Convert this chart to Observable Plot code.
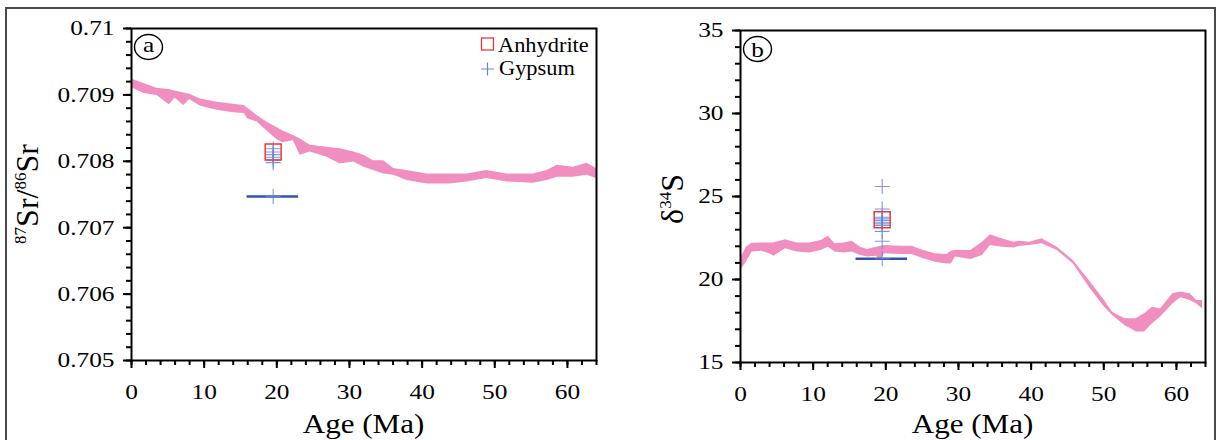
<!DOCTYPE html>
<html>
<head>
<meta charset="utf-8">
<script src="https://cdn.jsdelivr.net/npm/d3@7"></script>
<script src="https://cdn.jsdelivr.net/npm/@observablehq/plot@0.6"></script>
<style>
  html, body { margin: 0; padding: 0; background: #fff; }
  #fig { position: relative; width: 1218px; height: 440px; overflow: hidden; background: #fff; }
  .panel { position: absolute; top: 0; }
  #border { position: absolute; left: 5px; top: 7px; width: 1211px; height: 470px;
            border: 2px solid #4a4a4a; box-sizing: border-box; pointer-events: none; }
  #fig svg text { font-family: "Liberation Serif", "Times New Roman", serif; }
</style>
</head>
<body>
<div id="fig">
  <div id="pa" class="panel" style="left:0px"></div>
  <div id="pb" class="panel" style="left:605px"></div>
  <div id="border"></div>
</div>
<script>
// ---- Seawater 87Sr/86Sr envelope (panel a) ----
const srAge  = [0, 1.7, 3.5, 5.2, 6.0, 7.2, 8.0, 9.5, 11.8, 14.0, 15.5, 16.0, 17.3, 18.6, 20.0, 20.8, 22.3, 23.2, 24.6, 26.9, 28.7, 30.6, 32.0, 33.3, 34.7, 36.1, 37.9, 40.7, 43.9, 46.2, 48.9, 51.7, 55.3, 57.2, 58.6, 60.8, 62.7, 64];
const srHigh = [0.70924, 0.70917, 0.70910, 0.70908, 0.70906, 0.70903, 0.70901, 0.70894, 0.70889, 0.70886, 0.70884, 0.70880, 0.70869, 0.70859, 0.70851, 0.70846, 0.70839, 0.70834, 0.70824, 0.70821, 0.70819, 0.70814, 0.70809, 0.70801, 0.70801, 0.70789, 0.70786, 0.70781, 0.70781, 0.70781, 0.70786, 0.70781, 0.70781, 0.70786, 0.70794, 0.70791, 0.70797, 0.70789];
const srLow  = [0.70911, 0.70902, 0.70899, 0.70885, 0.70895, 0.70884, 0.70893, 0.70883, 0.70877, 0.70873, 0.70872, 0.70864, 0.70859, 0.70846, 0.70833, 0.70828, 0.70831, 0.70809, 0.70814, 0.70806, 0.70796, 0.70799, 0.70791, 0.70786, 0.70781, 0.70779, 0.70771, 0.70766, 0.70766, 0.70769, 0.70774, 0.70769, 0.70767, 0.70771, 0.70776, 0.70776, 0.70779, 0.70774];

// ---- Seawater δ34S envelope (panel b) ----
const sAge  = [0, 0.8, 1.6, 2.9, 4.0, 4.6, 6.2, 7.8, 9.5, 11.1, 12.1, 13.0, 14.3, 15.4, 16.5, 17.5, 18.7, 19.3, 19.8, 22.0, 23.6, 25.2, 26.8, 28.4, 29.0, 29.6, 31.7, 33.3, 34.4, 36.0, 37.6, 38.5, 39.8, 41.5, 43.6, 45.8, 48.0, 50.1, 51.2, 52.9, 54.5, 55.6, 56.7, 57.8, 59.5, 60.6, 61.9, 62.8, 63.6];
const sHigh = [21.25, 21.95, 22.19, 22.2, 22.2, 22.2, 22.39, 22.2, 22.2, 22.35, 22.6, 22.15, 22.2, 22.3, 21.95, 21.8, 21.95, 22.0, 22.05, 22.0, 22.0, 21.75, 21.55, 21.5, 21.7, 21.75, 21.75, 22.25, 22.7, 22.45, 22.25, 22.3, 22.25, 22.45, 21.95, 21.14, 19.94, 18.73, 18.03, 17.63, 17.63, 17.93, 18.33, 18.23, 19.14, 19.24, 19.14, 18.73, 18.73];
const sLow  = [20.54, 21.04, 21.65, 21.7, 21.55, 21.4, 21.85, 21.65, 21.6, 21.75, 21.95, 21.65, 21.6, 21.65, 21.45, 21.35, 21.4, 21.15, 21.55, 21.5, 21.5, 21.25, 21.04, 20.94, 20.94, 21.35, 21.2, 21.45, 22.05, 21.95, 21.9, 22.0, 22.05, 22.15, 21.75, 20.94, 19.54, 18.33, 17.83, 17.23, 16.83, 16.83, 17.33, 17.73, 18.53, 18.9, 18.73, 18.53, 18.23];

// ---- Evaporite samples (age ≈ 19.5 Ma; range 16–23 Ma) ----
const sampleAge = 19.5;
const sampleAgeMin = 15.9;
const sampleAgeMax = 23.0;
const anhydriteSr = [0.70814];
const gypsumSr    = [0.70819, 0.70814, 0.70810, 0.70806, 0.70802, 0.70798, 0.70747];
const gypsumSrBar = 0.70747;
const anhydriteS  = [23.6];
const gypsumS     = [25.6, 24.25, 23.75, 23.65, 23.55, 23.45, 23.35, 23.25, 22.9, 22.3, 21.25];
const gypsumSBar  = 21.25;

// ---- Axis ticks ----
const ageTicks = [0, 10, 20, 30, 40, 50, 60];
const srTicks = [0.705, 0.706, 0.707, 0.708, 0.709, 0.71];
const srTickLabels = ["0.705", "0.706", "0.707", "0.708", "0.709", "0.71"];
const sTicks = [15, 20, 25, 30, 35];
const sTickLabels = ["15", "20", "25", "30", "35"];

const ageMinor = d3.range(0, 65, 2);
const srMinor = d3.range(0, 26).map(i => +(0.705 + i * 0.0002).toFixed(5));
const sMinor = d3.range(15, 36, 1);

const FONT = '"Liberation Serif", "Times New Roman", serif';
const BAND = "#f08fbf";
const RED = "#e8383d";
const BLUE = "#6a85d3";
const DARKBLUE = "#3451b2";
const STRETCH = 1.18;
const TICK_FONT = 21.5;

const zip = (a, lo, hi) => a.map((age, i) => ({age, lo: lo[i], hi: hi[i]}));

function makePanel(o) {
  const svg = Plot.plot({
    width: o.width, height: 440,
    marginLeft: o.marginLeft, marginRight: o.marginRight,
    marginTop: o.marginTop, marginBottom: o.marginBottom,
    style: {fontFamily: FONT, fontSize: `${TICK_FONT}px`, color: "#000", background: "none", overflow: "visible"},
    x: {domain: [0, 64]},
    y: {domain: o.yDomain},
    marks: [
      Plot.areaY(o.band, {x: "age", y1: "lo", y2: "hi", fill: BAND}),
      Plot.ruleY([o.bar], {y: d => d, x1: sampleAgeMin, x2: sampleAgeMax, stroke: DARKBLUE, strokeWidth: 2.5}),
      Plot.dot(o.gypsum, {x: sampleAge, y: d => d, symbol: "plus", r: 4.9, stroke: BLUE, strokeWidth: 1.1, strokeOpacity: 0.85}),
      Plot.dot(o.anhydrite, {x: sampleAge, y: d => d, symbol: "square", r: 9, stroke: RED, fill: "none", strokeWidth: 1.5}),
      Plot.axisY({ticks: o.yMinor, tickSize: 5, strokeWidth: 2, tickFormat: () => "", label: null}),
      Plot.axisY({ticks: o.yTicks, tickSize: 8, tickPadding: 9, strokeWidth: 2,
                  tickFormat: d => o.yTickLabels[o.yTicks.indexOf(d)], label: null}),
      Plot.axisX({ticks: ageMinor, tickSize: 5, strokeWidth: 2, tickFormat: () => "", label: null}),
      Plot.axisX({ticks: ageTicks, tickSize: 8, tickPadding: 15, strokeWidth: 2, tickFormat: d => String(d), label: null}),
      Plot.frame({stroke: "#000", strokeWidth: 2})
    ]
  });

  const s = d3.select(svg);
  // Tick labels: serif, slightly wide
  s.selectAll("text").each(function () {
    const t = this.getAttribute("transform") || "";
    this.setAttribute("transform", `${t} scale(${STRETCH},1)`.trim());
    this.style.fontSize = `${TICK_FONT}px`;
  });

  const left = o.marginLeft, top = o.marginTop;
  const right = o.width - o.marginRight;
  const cx = (left + right) / 2;

  // x-axis title
  s.append("text")
    .attr("transform", `translate(${cx},433) scale(1.15,1)`)
    .attr("text-anchor", "middle").style("font-size", "27px")
    .text("Age (Ma)");

  // y-axis title with superscripts
  const yt = s.append("text")
    .attr("transform", `translate(${o.yTitleX},${o.yTitleY}) rotate(-90)`)
    .attr("text-anchor", "middle").style("font-size", "32px");
  let shift = 0;
  for (const [str, sup] of o.yTitle) {
    const target = sup ? -12 : 0;
    const ts = yt.append("tspan").attr("dy", target - shift).text(str);
    if (sup) ts.style("font-size", "17px");
    shift = target;
  }

  // Panel letter in a circle
  const lx = left + 17.5, ly = top + 19;
  s.append("ellipse").attr("cx", lx).attr("cy", ly).attr("rx", 14).attr("ry", 12.5)
    .attr("fill", "none").attr("stroke", "#000").attr("stroke-width", 1.4);
  s.append("text")
    .attr("transform", `translate(${lx},${ly + o.letterDy}) scale(1.15,1)`)
    .attr("text-anchor", "middle").style("font-size", "22px")
    .text(o.letter);

  return svg;
}

// Panel a
const svgA = makePanel({
  width: 605, marginLeft: 131, marginRight: 9, marginTop: 28, marginBottom: 80,
  yDomain: [0.705, 0.71], yTicks: srTicks, yTickLabels: srTickLabels, yMinor: srMinor,
  band: zip(srAge, srLow, srHigh), anhydrite: anhydriteSr, gypsum: gypsumSr, bar: gypsumSrBar,
  yTitle: [["87", true], ["Sr/", false], ["86", true], ["Sr", false]], yTitleX: 38, yTitleY: 194,
  letter: "a", letterDy: 4.5
});
document.getElementById("pa").appendChild(svgA);

// Legend inside panel a
{
  const s = d3.select(svgA);
  const rightEdge = 605 - 9;
  const ix = rightEdge - 108.5;
  s.append("rect").attr("x", ix - 6).attr("y", 38).attr("width", 12).attr("height", 12)
    .attr("fill", "none").attr("stroke", RED).attr("stroke-width", 1.3);
  s.append("text").attr("transform", `translate(${ix + 10.5},52) scale(1.12,1)`)
    .attr("text-anchor", "start").style("font-size", "20px").text("Anhydrite");
  s.append("path").attr("d", `M${ix - 6.5},69H${ix + 6.5}M${ix},62.5V75.5`)
    .attr("stroke", BLUE).attr("stroke-width", 1.2).attr("fill", "none");
  s.append("text").attr("transform", `translate(${ix + 11.5},75) scale(1.12,1)`)
    .attr("text-anchor", "start").style("font-size", "20px").text("Gypsum");
}

// Panel b
const svgB = makePanel({
  width: 613, marginLeft: 135, marginRight: 13, marginTop: 30, marginBottom: 78,
  yDomain: [15, 35], yTicks: sTicks, yTickLabels: sTickLabels, yMinor: sMinor,
  band: zip(sAge, sLow, sHigh), anhydrite: anhydriteS, gypsum: gypsumS, bar: gypsumSBar,
  yTitle: [["δ", false], ["34", true], ["S", false]], yTitleX: 78, yTitleY: 199,
  letter: "b", letterDy: 7.5
});
document.getElementById("pb").appendChild(svgB);
</script>
</body>
</html>
